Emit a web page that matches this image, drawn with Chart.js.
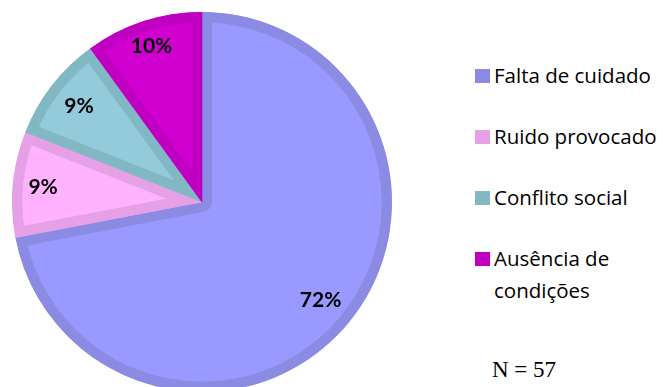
<!DOCTYPE html>
<html>
<head>
<meta charset="utf-8">
<script src="https://cdn.jsdelivr.net/npm/chart.js@4/dist/chart.umd.min.js"></script>
<style>
  html, body { margin: 0; padding: 0; background: #fff; width: 663px; height: 387px; overflow: hidden; }
  #wrap { position: absolute; left: 12px; top: 12px; width: 380px; height: 380px; }
  #legend { position: absolute; left: 475px; top: 59px; font-family: "Open Sans", sans-serif; font-size: 20.5px; color: #000; }
  .item { position: absolute; left: 0; padding-left: 19px; line-height: 32px; white-space: nowrap; }
  .sw { position: absolute; left: 0; top: 10px; width: 15px; height: 14px; }
  #note { position: absolute; left: 492px; top: 357px; font-family: "Liberation Serif", "Times New Roman", serif; font-size: 23px; color: #000; }
</style>
</head>
<body>
<div id="wrap"><canvas id="c"></canvas></div>
<div id="legend"></div>
<div id="note"></div>
<script>
// Causes and their share (%)
const categories = ['Falta de cuidado', 'Ruido provocado', 'Conflito social', ['Ausência de', 'condições']];
const shares = [72, 9, 9, 10];
const fillColors = ['#9999FF', '#FFB3FF', '#93CBDA', '#D000D0'];
const edgeColors = ['#8B8BE3', '#E6A0E6', '#82B8C4', '#C000C0'];
const sampleSize = 57;

// Distance of each percent label from the centre, as a fraction of the radius
const labelRadius = [0.81, 0.84, 0.82, 0.86];

document.getElementById('note').textContent = 'N = ' + sampleSize;

// Legend built from the category list
const legend = document.getElementById('legend');
const rowStep = 61;
categories.forEach((cat, i) => {
  const el = document.createElement('div');
  el.className = 'item';
  el.style.top = (i * rowStep) + 'px';
  const sw = document.createElement('span');
  sw.className = 'sw';
  sw.style.background = edgeColors[i];
  el.appendChild(sw);
  const lines = Array.isArray(cat) ? cat : [cat];
  lines.forEach((ln, k) => {
    if (k) el.appendChild(document.createElement('br'));
    el.appendChild(document.createTextNode(ln));
  });
  legend.appendChild(el);
});

// Percent labels placed inside each slice
const sliceLabels = {
  id: 'sliceLabels',
  afterDatasetsDraw(chart) {
    const ctx = chart.ctx;
    const meta = chart.getDatasetMeta(0);
    ctx.save();
    ctx.font = 'bold 21px Lato, "Open Sans", sans-serif';
    ctx.fillStyle = '#000';
    ctx.textAlign = 'center';
    ctx.textBaseline = 'middle';
    meta.data.forEach((arc, i) => {
      const p = arc.getProps(['x', 'y', 'startAngle', 'endAngle', 'outerRadius'], true);
      const mid = (p.startAngle + p.endAngle) / 2;
      const r = p.outerRadius * labelRadius[i];
      ctx.fillText(shares[i] + '%', p.x + Math.cos(mid) * r, p.y + Math.sin(mid) * r);
    });
    ctx.restore();
  }
};

new Chart(document.getElementById('c'), {
  type: 'pie',
  data: {
    labels: categories.map(c => Array.isArray(c) ? c.join(' ') : c),
    datasets: [{
      data: shares,
      backgroundColor: fillColors,
      borderColor: edgeColors,
      borderWidth: 10,
      borderAlign: 'inner'
    }]
  },
  options: {
    responsive: true,
    maintainAspectRatio: false,
    animation: false,
    layout: { padding: 0 },
    plugins: { legend: { display: false }, tooltip: { enabled: false } }
  },
  plugins: [sliceLabels]
});
</script>
</body>
</html>
